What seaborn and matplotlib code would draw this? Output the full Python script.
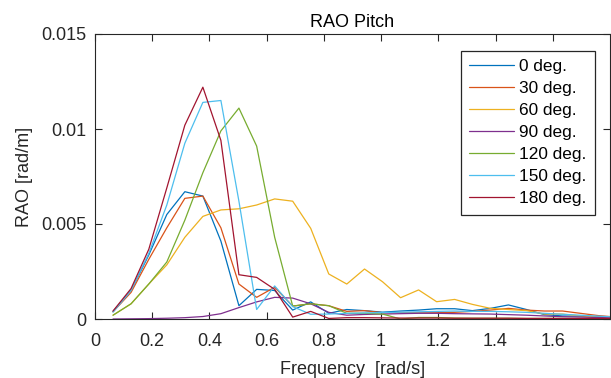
import matplotlib
matplotlib.use("Agg")
import matplotlib.pyplot as plt
import pandas as pd
import seaborn as sns

# Wave frequencies [rad/s]
freq = [0.063, 0.126, 0.188, 0.251, 0.314, 0.377, 0.440, 0.503, 0.565, 0.628,
        0.691, 0.754, 0.817, 0.880, 0.942, 1.005, 1.068, 1.131, 1.194, 1.257,
        1.319, 1.382, 1.445, 1.508, 1.571, 1.634, 1.696, 1.759, 1.822]

rao_0 = [0.00040, 0.00150, 0.00337, 0.00550, 0.00670, 0.00647, 0.00410, 0.00070, 0.00156, 0.00150,
         0.00047, 0.00090, 0.00030, 0.00050, 0.00044, 0.00036, 0.00042, 0.00047, 0.00054, 0.00054,
         0.00044, 0.00056, 0.00074, 0.00050, 0.00023, 0.00016, 0.00015, 0.00012, 0.00010]
rao_30 = [0.00038, 0.00140, 0.00314, 0.00480, 0.00635, 0.00647, 0.00480, 0.00184, 0.00114, 0.00167,
          0.00068, 0.00080, 0.00070, 0.00040, 0.00044, 0.00033, 0.00033, 0.00033, 0.00033, 0.00035,
          0.00040, 0.00047, 0.00056, 0.00047, 0.00042, 0.00042, 0.00030, 0.00018, 0.00010]
rao_60 = [0.00020, 0.00080, 0.00184, 0.00285, 0.00430, 0.00540, 0.00574, 0.00580, 0.00600, 0.00632,
          0.00620, 0.00477, 0.00237, 0.00184, 0.00263, 0.00196, 0.00112, 0.00153, 0.00091, 0.00103,
          0.00077, 0.00056, 0.00050, 0.00044, 0.00026, 0.00026, 0.00016, 0.00010, 0.00008]
rao_90 = [0.00000, 0.00001, 0.00002, 0.00004, 0.00007, 0.00013, 0.00028, 0.00060, 0.00090, 0.00114,
          0.00110, 0.00080, 0.00035, 0.00020, 0.00024, 0.00026, 0.00028, 0.00030, 0.00030, 0.00028,
          0.00027, 0.00026, 0.00023, 0.00020, 0.00016, 0.00012, 0.00010, 0.00008, 0.00006]
rao_120 = [0.00020, 0.00080, 0.00184, 0.00300, 0.00520, 0.00770, 0.00990, 0.01110, 0.00910, 0.00430,
           0.00068, 0.00080, 0.00070, 0.00030, 0.00030, 0.00026, 0.00000, 0.00008, 0.00008, 0.00005,
           0.00004, 0.00004, 0.00004, 0.00003, 0.00003, 0.00003, 0.00002, 0.00002, 0.00002]
rao_150 = [0.00036, 0.00150, 0.00345, 0.00600, 0.00925, 0.01140, 0.01150, 0.00620, 0.00050, 0.00174,
           0.00065, 0.00025, 0.00026, 0.00030, 0.00032, 0.00034, 0.00036, 0.00038, 0.00040, 0.00042,
           0.00040, 0.00040, 0.00038, 0.00035, 0.00030, 0.00025, 0.00020, 0.00015, 0.00010]
rao_180 = [0.00042, 0.00160, 0.00367, 0.00690, 0.01020, 0.01220, 0.00940, 0.00233, 0.00219, 0.00156,
           0.00010, 0.00040, 0.00003, 0.00007, 0.00007, 0.00006, 0.00005, 0.00005, 0.00005, 0.00004,
           0.00004, 0.00004, 0.00004, 0.00003, 0.00003, 0.00003, 0.00003, 0.00003, 0.00003]

headings = ["0 deg.", "30 deg.", "60 deg.", "90 deg.", "120 deg.", "150 deg.", "180 deg."]
colors = ["#0072BD", "#D95319", "#EDB120", "#7E2F8E", "#77AC30", "#4DBEEE", "#A2142F"]

xticks = [0, 0.2, 0.4, 0.6, 0.8, 1.0, 1.2, 1.4, 1.6]
xticklabels = ["0", "0.2", "0.4", "0.6", "0.8", "1", "1.2", "1.4", "1.6"]
yticks = [0, 0.005, 0.01, 0.015]
yticklabels = ["0", "0.005", "0.01", "0.015"]

sns.set_style("ticks")
plt.rcParams["font.family"] = ["Liberation Sans", "DejaVu Sans"]

series = [rao_0, rao_30, rao_60, rao_90, rao_120, rao_150, rao_180]
rows = []
for name, vals in zip(headings, series):
    for f, v in zip(freq, vals):
        rows.append((f, v, name))
df = pd.DataFrame(rows, columns=["freq", "rao", "heading"])

W, H = 611, 378
fig = plt.figure(figsize=(W / 100, H / 100), dpi=100)
L, R, T, B = 95, 610, 34, 319
ax = fig.add_axes([L / W, 1 - B / H, (R - L) / W, (B - T) / H])

sns.lineplot(data=df, x="freq", y="rao", hue="heading", hue_order=headings,
             palette=colors, estimator=None, sort=False, linewidth=0.9, ax=ax)

ax.set_xlim(0, 1.8)
ax.set_ylim(0, 0.015)
ax.set_xticks(xticks)
ax.set_xticklabels(xticklabels)
ax.set_yticks(yticks)
ax.set_yticklabels(yticklabels)

tc = "#262626"
ax.tick_params(direction="in", top=True, right=True, length=5, width=0.8,
               colors=tc, labelsize=13)
ax.tick_params(axis="x", pad=10)
ax.tick_params(axis="y", pad=6)
for s in ax.spines.values():
    s.set_color(tc)
    s.set_linewidth(0.8)

ax.set_xlabel("Frequency  [rad/s]", fontsize=13, color=tc, labelpad=8)
ax.set_ylabel("RAO [rad/m]", fontsize=13, color=tc, labelpad=6)
ax.set_title("RAO Pitch", fontsize=13, color="#000000", pad=5)

leg = ax.legend(loc="upper right", bbox_to_anchor=((595 - L) / (R - L), (B - 50.7) / (B - T)),
                borderaxespad=0, fontsize=12.4, frameon=True, fancybox=False,
                handlelength=2.6, handletextpad=0.3, labelspacing=0.4, borderpad=0.5)
leg.get_frame().set_edgecolor(tc)
leg.get_frame().set_linewidth(0.9)
leg.get_frame().set_alpha(1)
for t in leg.get_texts():
    t.set_color("#000000")

fig.savefig("out.png", dpi=100)
